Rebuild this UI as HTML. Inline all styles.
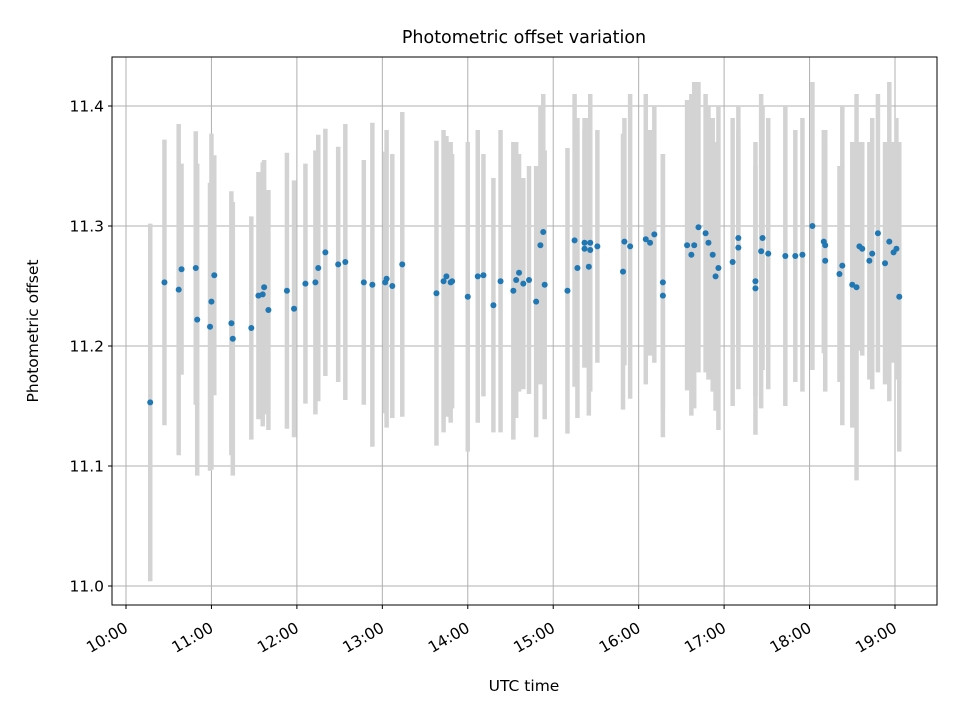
<!DOCTYPE html>
<html><head><meta charset="utf-8"><style>
body{margin:0;background:#fff;font-family:"Liberation Sans",sans-serif}
svg text{font-family:"DejaVu Sans","Liberation Sans",sans-serif;fill:#000}
</style></head><body>
<svg id="chart" width="960" height="720" viewBox="0 0 960 720" xmlns="http://www.w3.org/2000/svg">
<rect width="960" height="720" fill="#fff"/>
<text x="524" y="43" font-size="17.5" text-anchor="middle">Photometric offset variation</text>
<text x="524" y="691" font-size="15.5" text-anchor="middle">UTC time</text>
<text transform="translate(38,331) rotate(-90)" font-size="15.5" text-anchor="middle">Photometric offset</text>
<g id="grid"></g>
<g id="bars"></g>
<g id="pts"></g>
<g id="axes"></g>
<rect x="112" y="57" width="825" height="548" fill="none" stroke="#000" stroke-width="1"/>
</svg>
<script>
const times=["10:17","10:27","10:37","10:39","10:49","10:50","10:59","11:00","11:02","11:14","11:15","11:28","11:33","11:36","11:37","11:40","11:53","11:58","12:06","12:13","12:15","12:20","12:29","12:34","12:47","12:53","13:02","13:03","13:07","13:14","13:38","13:43","13:45","13:48","13:49","14:00","14:07","14:11","14:18","14:23","14:32","14:34","14:36","14:39","14:43","14:48","14:51","14:53","14:54","15:10","15:15","15:17","15:22","15:22","15:25","15:26","15:26","15:31","15:49","15:50","15:54","16:05","16:08","16:11","16:17","16:17","16:34","16:37","16:39","16:42","16:47","16:49","16:52","16:54","16:56","17:06","17:10","17:10","17:22","17:22","17:26","17:27","17:31","17:43","17:50","17:55","18:02","18:10","18:11","18:11","18:21","18:23","18:30","18:33","18:35","18:37","18:42","18:44","18:48","18:53","18:56","18:59","19:01","19:03"];
const offsets=[11.153,11.253,11.247,11.264,11.265,11.222,11.216,11.237,11.259,11.219,11.206,11.215,11.242,11.243,11.249,11.230,11.246,11.231,11.252,11.253,11.265,11.278,11.268,11.270,11.253,11.251,11.253,11.256,11.250,11.268,11.244,11.254,11.258,11.253,11.254,11.241,11.258,11.259,11.234,11.254,11.246,11.255,11.261,11.252,11.255,11.237,11.284,11.295,11.251,11.246,11.288,11.265,11.286,11.281,11.266,11.286,11.280,11.283,11.262,11.287,11.283,11.289,11.286,11.293,11.253,11.242,11.284,11.276,11.284,11.299,11.294,11.286,11.276,11.258,11.265,11.270,11.290,11.282,11.248,11.254,11.279,11.290,11.277,11.275,11.275,11.276,11.300,11.287,11.284,11.271,11.260,11.267,11.251,11.249,11.283,11.281,11.271,11.277,11.294,11.269,11.287,11.278,11.281,11.241];
const errors=[0.149,0.119,0.138,0.088,0.114,0.13,0.12,0.14,0.10,0.11,0.114,0.093,0.103,0.11,0.106,0.10,0.115,0.107,0.10,0.11,0.111,0.103,0.098,0.115,0.102,0.135,0.109,0.124,0.11,0.127,0.127,0.126,0.117,0.117,0.106,0.129,0.122,0.101,0.106,0.126,0.124,0.115,0.099,0.088,0.095,0.113,0.116,0.115,0.112,0.119,0.122,0.125,0.104,0.099,0.124,0.124,0.09,0.097,0.115,0.103,0.127,0.121,0.094,0.107,0.107,0.118,0.121,0.134,0.136,0.121,0.116,0.114,0.114,0.112,0.135,0.12,0.09,0.118,0.122,0.096,0.131,0.11,0.113,0.125,0.105,0.114,0.12,0.093,0.086,0.109,0.09,0.133,0.119,0.161,0.087,0.089,0.099,0.113,0.116,0.101,0.133,0.092,0.109,0.129];
const yTicks=[11.0,11.1,11.2,11.3,11.4];
const xTicks=["10:00","11:00","12:00","13:00","14:00","15:00","16:00","17:00","18:00","19:00"];
const NS="http://www.w3.org/2000/svg";
function mins(t){const p=t.split(":");return (+p[0])*60+(+p[1]);}
function xs(t){return 126+(mins(t)-600)*(769/540);}
function ys(v){return 586-(v-11)*1200;}
function mk(tag,attrs,parent){const e=document.createElementNS(NS,tag);for(const k in attrs)e.setAttribute(k,attrs[k]);parent.appendChild(e);return e;}
const grid=document.getElementById('grid'),axes=document.getElementById('axes'),bars=document.getElementById('bars'),pts=document.getElementById('pts');
yTicks.forEach(v=>{const y=ys(v);
 const g=mk('line',{x1:112,x2:937,y1:y,y2:y,stroke:'#b0b0b0','stroke-width':1},grid);
 
 
 const tk=mk('line',{x1:108,x2:112,y1:y,y2:y,stroke:'#000'},axes);
 
 
 const tx=mk('text',{x:104,y:y+5.5,'font-size':15.5,'text-anchor':'end'},axes);tx.textContent=v.toFixed(1);
 
 
});
xTicks.forEach(t=>{const x=xs(t);
 const g=mk('line',{x1:x,x2:x,y1:57,y2:605,stroke:'#b0b0b0','stroke-width':1},grid);
 
 
 const tk=mk('line',{x1:x,x2:x,y1:605,y2:609,stroke:'#000'},axes);
 
 
 const tx=mk('text',{transform:`translate(${x-1},${624}) rotate(-30)`,'font-size':15.5,'text-anchor':'end',y:8},axes);tx.textContent=t;
 
 
});
times.forEach((t,i)=>{const x=xs(t);
 const b=mk('line',{x1:x,x2:x,y1:ys(offsets[i]+errors[i]),y2:ys(offsets[i]-errors[i]),stroke:'#d3d3d3','stroke-width':4.5},bars);
 
 
});
times.forEach((t,i)=>{
 const c=mk('circle',{cx:xs(t),cy:ys(offsets[i]),r:3,fill:'#1f77b4'},pts);
 
 
});
</script>
</body></html>
